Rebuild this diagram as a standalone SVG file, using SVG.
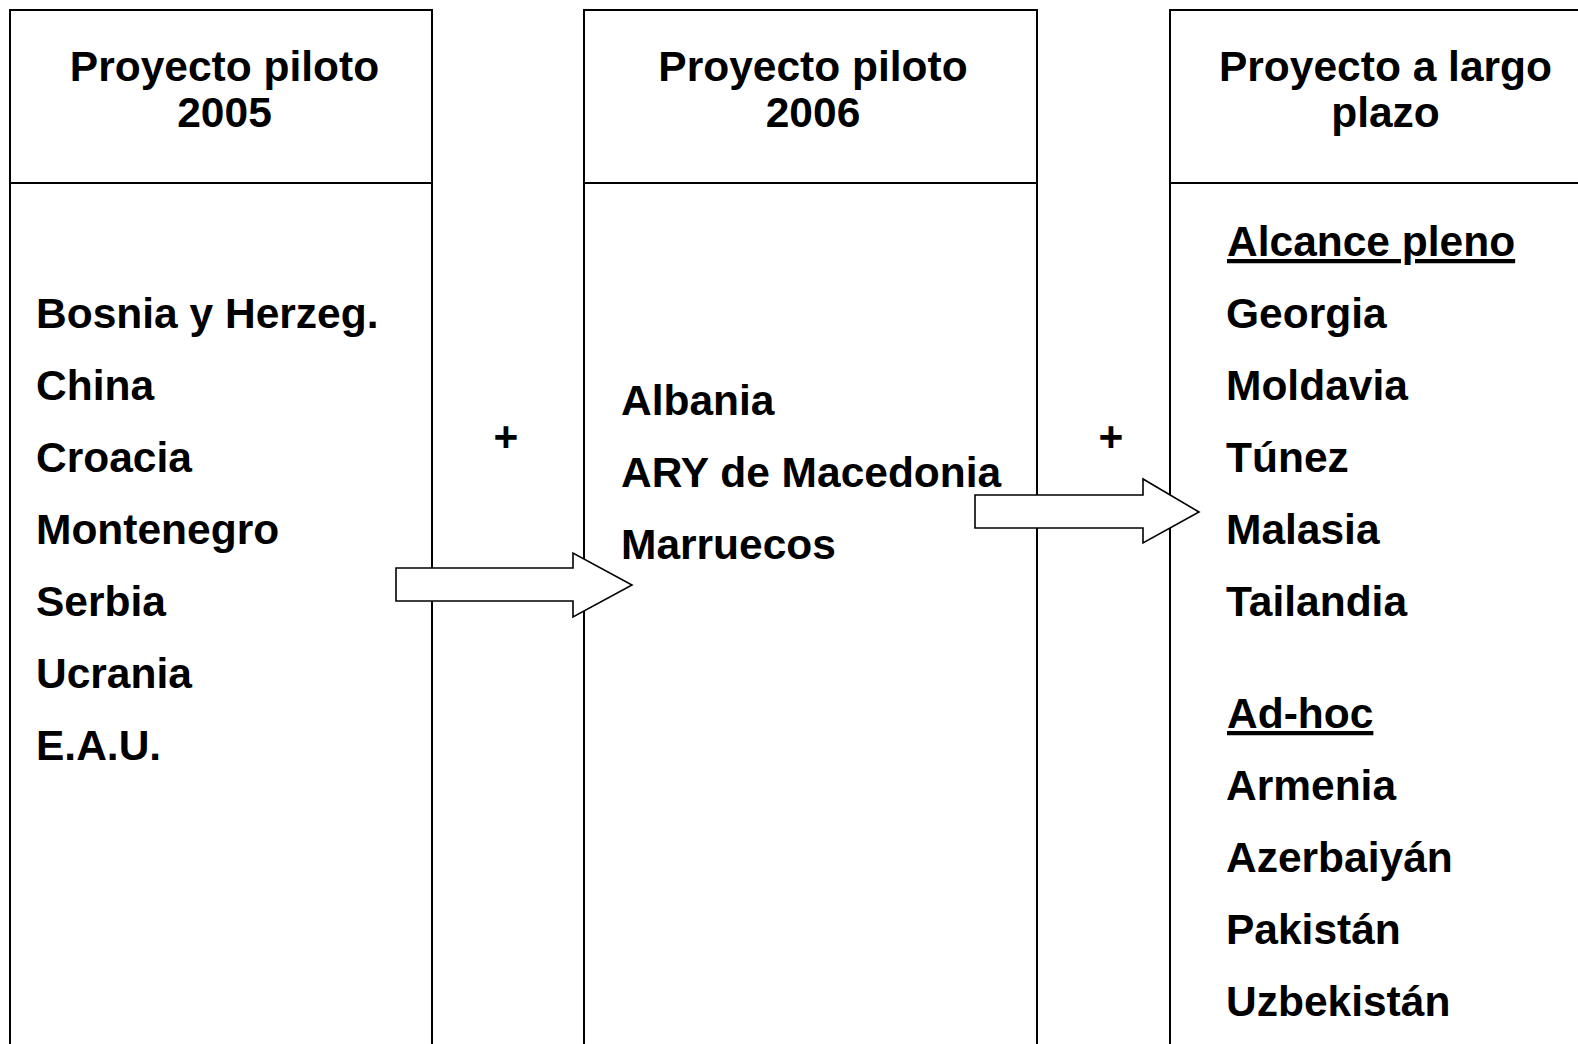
<svg xmlns="http://www.w3.org/2000/svg" width="1578" height="1044" viewBox="0 0 1578 1044">
<style>
.box{fill:#fff;stroke:#000;stroke-width:2}
.ln{stroke:#000;stroke-width:2}
text{font-family:"Liberation Sans",Arial,sans-serif;font-weight:bold;font-size:42.5px;fill:#000}
.h{text-anchor:middle}
.u{text-decoration:underline}
.arrow{fill:#fff;stroke:#000;stroke-width:1.6}
</style>
<rect width="1578" height="1044" fill="#fff"/>
<g id="col1">
<rect class="box" x="10" y="10" width="422" height="1050"/>
<line class="ln" x1="10" y1="183" x2="432" y2="183"/>
<text class="h" x="224.5" y="81">Proyecto piloto</text>
<text class="h" x="224.5" y="127">2005</text>
<text x="36" y="328">Bosnia y Herzeg.</text>
<text x="36" y="400">China</text>
<text x="36" y="472">Croacia</text>
<text x="36" y="544">Montenegro</text>
<text x="36" y="616">Serbia</text>
<text x="36" y="688">Ucrania</text>
<text x="36" y="760">E.A.U.</text>
</g>
<g id="col2">
<rect class="box" x="584" y="10" width="453" height="1050"/>
<line class="ln" x1="584" y1="183" x2="1037" y2="183"/>
<text class="h" x="813" y="81">Proyecto piloto</text>
<text class="h" x="813" y="127">2006</text>
<text x="621" y="415">Albania</text>
<text x="621" y="487">ARY de Macedonia</text>
<text x="621" y="559">Marruecos</text>
</g>
<g id="col3">
<rect class="box" x="1170" y="10" width="430" height="1050"/>
<line class="ln" x1="1170" y1="183" x2="1600" y2="183"/>
<text class="h" x="1385.5" y="81">Proyecto a largo</text>
<text class="h" x="1385.5" y="127">plazo</text>
<text class="u" x="1227" y="256">Alcance pleno</text>
<text x="1226" y="328">Georgia</text>
<text x="1226" y="400">Moldavia</text>
<text x="1226" y="472">Túnez</text>
<text x="1226" y="544">Malasia</text>
<text x="1226" y="616">Tailandia</text>
<text class="u" x="1227" y="728">Ad-hoc</text>
<text x="1226" y="800">Armenia</text>
<text x="1226" y="872">Azerbaiyán</text>
<text x="1226" y="944">Pakistán</text>
<text x="1226" y="1016">Uzbekistán</text>
</g>
<g id="connectors">
<polygon class="arrow" points="396,568 573,568 573,553 632,585 573,617 573,601 396,601"/>
<polygon class="arrow" points="975,495 1143,495 1143,479 1199,512 1143,543 1143,528 975,528"/>
<text class="h" x="506" y="451">+</text>
<text class="h" x="1111" y="451">+</text>
</g>
</svg>
